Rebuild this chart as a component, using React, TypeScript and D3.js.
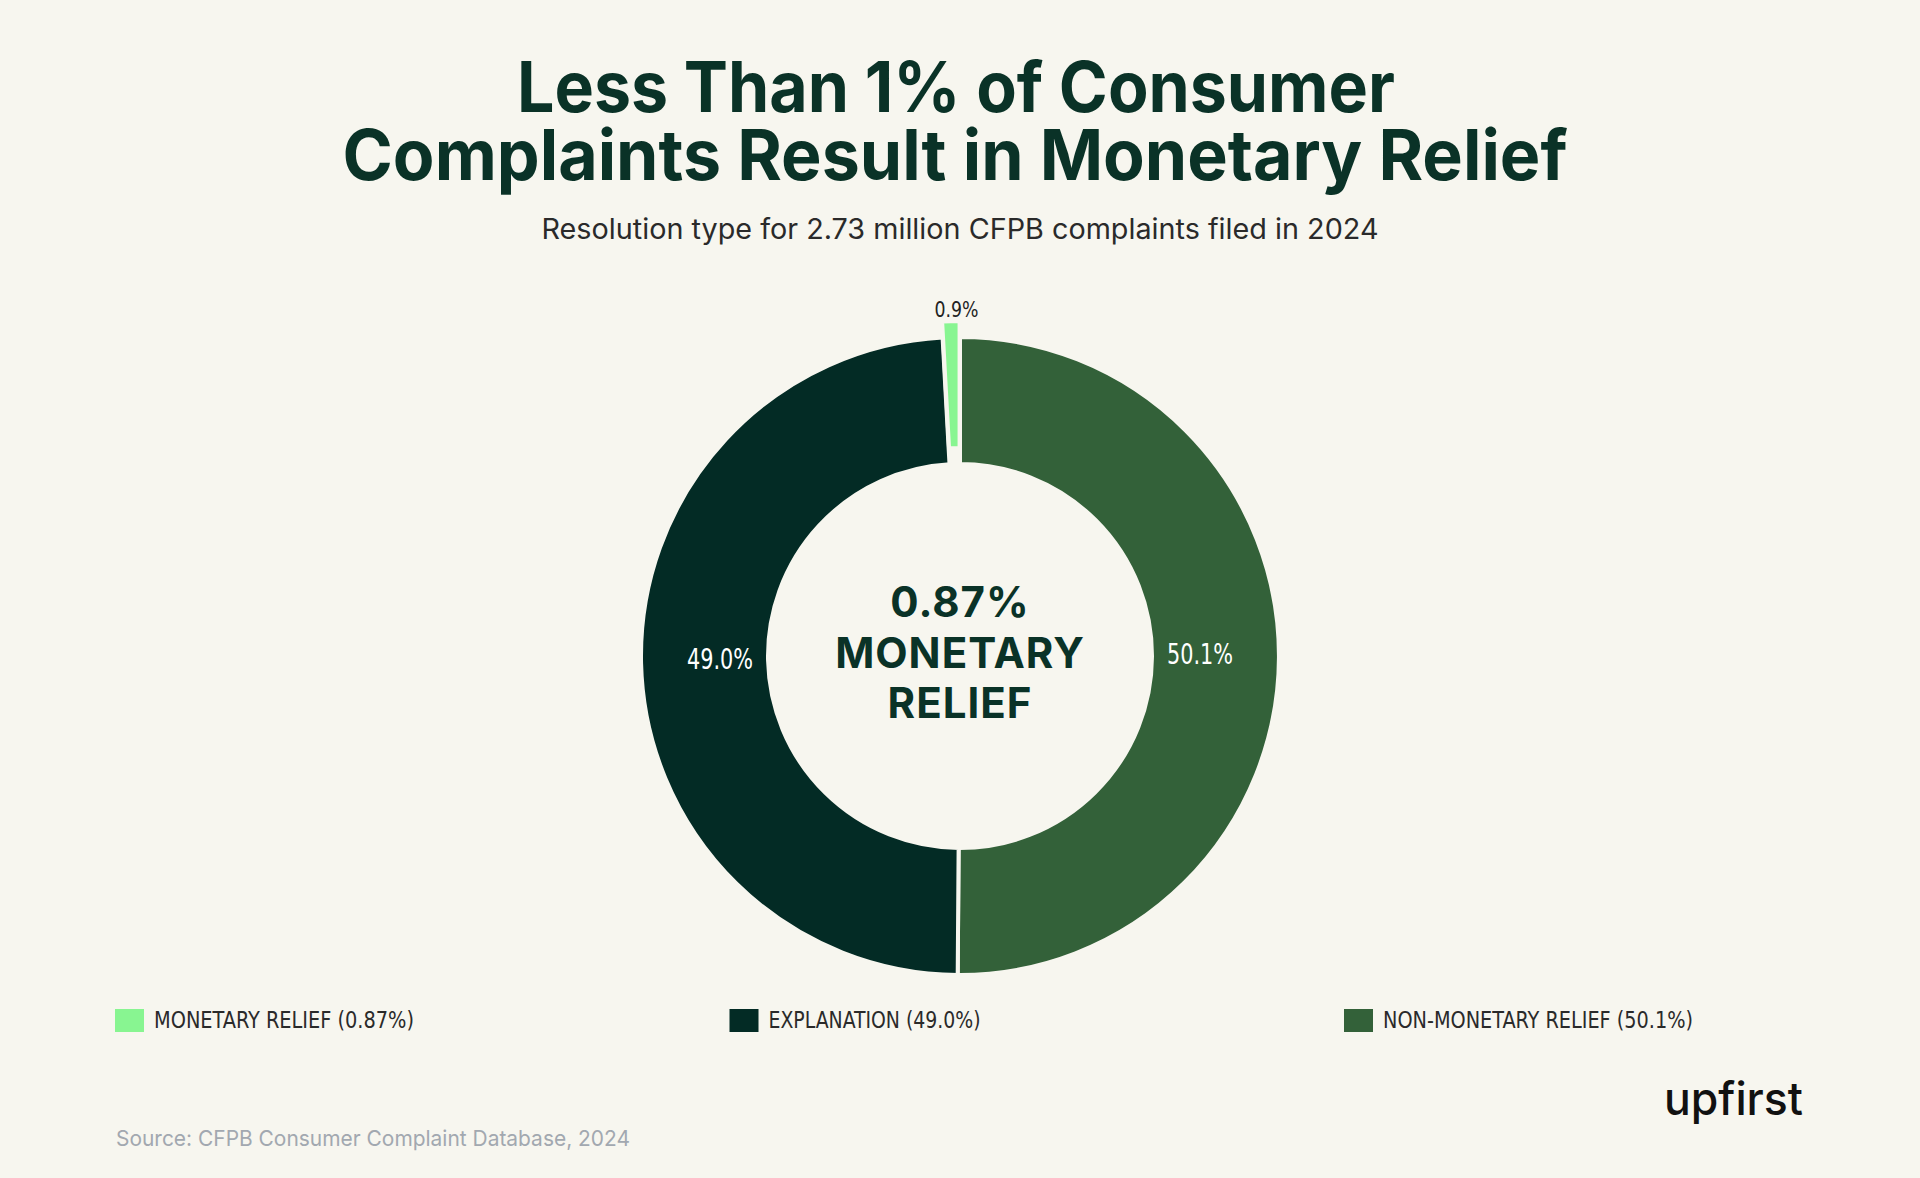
import React from 'react';
import * as d3 from 'd3';

// Resolution outcomes for CFPB complaints filed in 2024 (percent of total)
const categories = ['MONETARY RELIEF', 'EXPLANATION', 'NON-MONETARY RELIEF'];
const shares = [0.87, 49.0, 50.1];
const sliceLabels = ['0.9%', '49.0%', '50.1%'];
const legendLabels = ['MONETARY RELIEF (0.87%)', 'EXPLANATION (49.0%)', 'NON-MONETARY RELIEF (50.1%)'];
const sliceColors = ['#88f591', '#032b25', '#336139'];
// clockwise order starting from 12 o'clock
const drawOrder = [2, 1, 0];

const W = 1920;
const H = 1178;
const BG = '#f7f6ef';
const TITLE = '#0a3227';
const NARROW = "'Liberation Sans Narrow', 'DejaVu Sans Condensed', 'Roboto', sans-serif";
const SANS = "'Inter', 'Noto Sans', sans-serif";

// rendered widths of the condensed legend captions
const legendWidths = [260, 212, 310];

export default function App() {
  const cx = 960;
  const cy = 656;
  const outerR = 319;
  const innerR = 192;

  const rows = drawOrder.map((i) => ({ i, name: categories[i], value: shares[i] }));
  const pie = d3.pie<any>().sort(null).value((d) => d.value);
  const arcs = pie(rows);
  const arcGen = d3.arc<any>().innerRadius(innerR).outerRadius(outerR);

  const legendX = d3.scalePoint<number>().domain([0, 1, 2]).range([115, 1344]);

  return (
    <svg
      width={W}
      height={H}
      viewBox={`0 0 ${W} ${H}`}
      style={{ position: 'absolute', left: 0, top: 0, display: 'block' }}
    >
      <rect x={0} y={0} width={W} height={H} fill={BG} />

      <text textAnchor="middle" fontFamily={SANS} fontWeight={700} fontSize={70} fill={TITLE}>
        <tspan x={956} y={112} textLength={878} lengthAdjust="spacingAndGlyphs">
          Less Than 1% of Consumer
        </tspan>
        <tspan x={955} y={180} textLength={1225} lengthAdjust="spacingAndGlyphs">
          Complaints Result in Monetary Relief
        </tspan>
      </text>
      <text x={960} y={239} textAnchor="middle" fontFamily={SANS} fontWeight={400} fontSize={28}
        fill="#2a2a2a" textLength={837} lengthAdjust="spacingAndGlyphs">
        Resolution type for 2.73 million CFPB complaints filed in 2024
      </text>

      <g transform={`translate(${cx},${cy})`}>
        {arcs.map((a) => {
          const mid = (a.startAngle + a.endAngle) / 2;
          const pulled = a.data.i === 0;
          const off = pulled ? 16 : 0;
          const dx = Math.sin(mid) * off;
          const dy = -Math.cos(mid) * off;
          return (
            <path
              key={a.data.name}
              d={arcGen(a) || ''}
              transform={`translate(${dx},${dy})`}
              fill={sliceColors[a.data.i]}
              stroke={BG}
              strokeWidth={4}
            />
          );
        })}
        {arcs.map((a) => {
          const mid = (a.startAngle + a.endAngle) / 2;
          const small = a.data.i === 0;
          const r = small ? 346 : 240;
          const x = Math.sin(mid) * r + (small ? 6 : 0);
          const y = -Math.cos(mid) * r - (small ? 0 : 2);
          return (
            <text
              key={'l' + a.data.name}
              x={x}
              y={y}
              textAnchor="middle"
              dominantBaseline="central"
              fontFamily={NARROW}
              fontSize={small ? 21 : 28}
              fill={small ? '#222222' : '#ffffff'}
              textLength={small ? 44 : 66}
              lengthAdjust="spacingAndGlyphs"
            >
              {sliceLabels[a.data.i]}
            </text>
          );
        })}
      </g>

      <text fontFamily={SANS} fontWeight={700} fontSize={42} fill={TITLE} textAnchor="middle" letterSpacing={1}>
        <tspan x={960} y={617}>0.87%</tspan>
        <tspan x={960} y={668}>MONETARY</tspan>
        <tspan x={960} y={718}>RELIEF</tspan>
      </text>

      {legendLabels.map((lab, i) => (
        <g key={lab} transform={`translate(${legendX(i)},1009)`}>
          <rect x={0} y={0} width={29} height={23} fill={sliceColors[i]} />
          <text x={39} y={19} fontFamily={NARROW} fontSize={23} fill="#2a2a2a"
            textLength={legendWidths[i]} lengthAdjust="spacingAndGlyphs">
            {lab}
          </text>
        </g>
      ))}

      <text x={116} y={1146} fontFamily={SANS} fontSize={22} fill="#a2a8b0"
        textLength={514} lengthAdjust="spacingAndGlyphs">
        Source: CFPB Consumer Complaint Database, 2024
      </text>

      <text x={1664} y={1115} fontFamily={SANS} fontWeight={500} fontSize={46} fill="#111111"
        textLength={139} lengthAdjust="spacingAndGlyphs">
        upfirst
      </text>
    </svg>
  );
}
